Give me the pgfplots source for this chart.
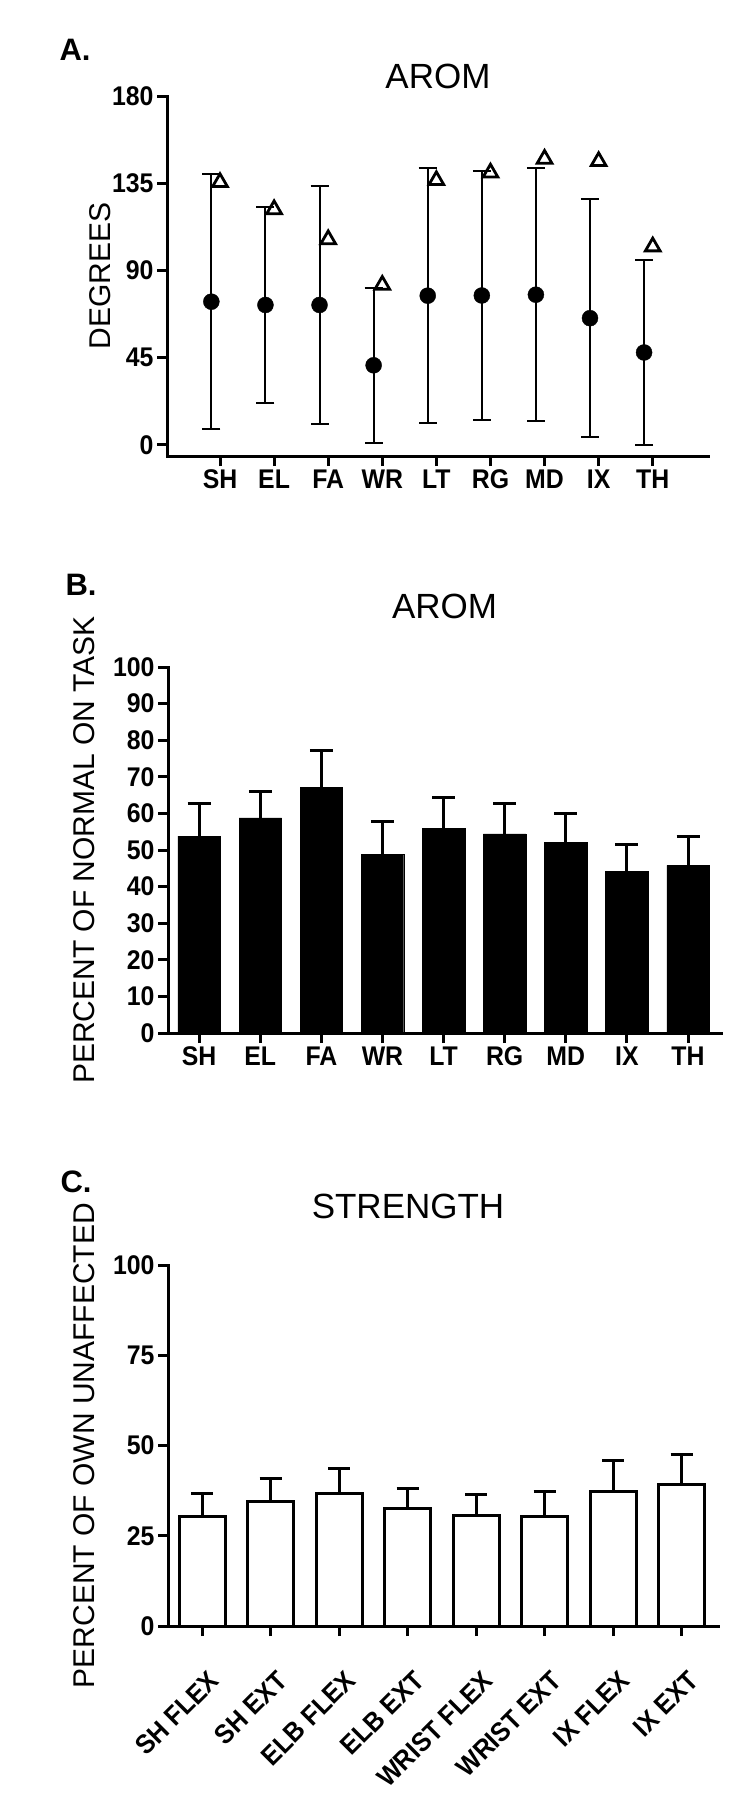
\documentclass[border=0pt]{standalone}
\usepackage{fontspec}
\setmainfont{Liberation Sans}
\newfontfamily\condfont[FakeStretch=0.92]{Liberation Sans}
\usepackage{pgfplots}
\usepackage{pgfplotstable}
\pgfplotsset{compat=1.18}

\newcommand{\tickfont}{\condfont\bfseries\fontsize{27bp}{29bp}\selectfont}
\newcommand{\rottickfont}{\condfont\bfseries\fontsize{27bp}{29bp}\selectfont}
\newcommand{\labfont}{\fontsize{30bp}{32bp}\selectfont}
\newcommand{\titfont}{\fontsize{35bp}{38bp}\selectfont}
\newcommand{\letfont}{\bfseries\fontsize{31bp}{33bp}\selectfont}

\pgfplotstableread{
x   xd     y     e     tri
0  -0.16  73.9  65.8  135.5
1   0.84  72.2  50.5  121.5
2   1.84  72.2  61.4  106.0
3   2.84  41.1  39.9   82.5
4   3.84  77.0  65.8  136.5
5   4.84  77.1  64.2  140.4
6   5.84  77.5  65.2  147.5
7   6.84  65.4  61.5  146.3
8   7.84  47.7  47.7  102.3
}\dataA

\pgfplotstableread{
x  y     e
0  53.8  8.8
1  58.8  7.3
2  67.1  10.1
3  48.9  8.8
4  55.9  8.5
5  54.4  8.3
6  52.1  7.8
7  44.2  7.4
8  45.8  8.0
}\dataB

\pgfplotstableread{
x  y     e
0  30.4  6.2
1  34.6  6.3
2  36.7  6.9
3  32.5  5.6
4  30.5  5.8
5  30.4  6.9
6  37.4  8.5
7  39.2  8.2
}\dataC

\pgfplotsset{
  gp/.style={
    scale only axis,
    axis x line*=bottom, axis y line*=left,
    axis line style={line width=3bp, line cap=rect, -},
    tick style={line width=3bp, black},
    tick align=outside,
    major tick length=10bp,
    tick label style={font=\tickfont},
    /pgf/number format/assume math mode=true,
    label style={font=\labfont},
    title style={font=\titfont},
    enlargelimits=false,
    clip=false,
  }
}

\begin{document}
\begin{tikzpicture}
\useasboundingbox (0,0) rectangle (750bp,-1793bp);

% ---------------- Panel A ----------------
\begin{axis}[gp,
  at={(167bp,-456bp)}, anchor=south west,
  width=542bp, height=360bp,
  xmin=-0.98, xmax=9.04, ymin=-5.7, ymax=180,
  xtick={0,...,8}, xticklabels={SH,EL,FA,WR,LT,RG,MD,IX,TH},
  ytick={0,45,90,135,180},
  ylabel={DEGREES},
  ylabel style={at={([xshift=-67bp]rel axis cs:0,0.5)}, anchor=center},
  title={AROM},
  title style={at={(rel axis cs:0.5,1)}, anchor=base, yshift=2bp},
]
\addplot[only marks, black, mark=*, mark size=8bp,
  error bars/.cd, y dir=both, y explicit,
  error bar style={line width=2bp, black},
  error mark options={rotate=90, mark size=9bp, line width=2bp, black}]
  table[x=xd, y=y, y error=e] {\dataA};
\addplot[only marks, black, mark=triangle, mark size=8.5bp,
  mark options={line width=2.8bp, fill=white}]
  table[x=x, y=tri] {\dataA};
\end{axis}

% ---------------- Panel B ----------------
\begin{axis}[gp,
  at={(168bp,-1033bp)}, anchor=south west,
  width=553bp, height=366bp,
  xmin=-0.51, xmax=8.54, ymin=0, ymax=100,
  xtick={0,...,8}, xticklabels={SH,EL,FA,WR,LT,RG,MD,IX,TH},
  ytick={0,10,...,100},
  ylabel={PERCENT OF NORMAL ON TASK},
  ylabel style={at={([xshift=-84bp]rel axis cs:0,0.5)}, anchor=center},
  title={AROM},
  title style={at={(rel axis cs:0.5,1)}, anchor=base, yshift=43bp},
]
\addplot[ybar, bar shift=0pt, bar width=42.5bp, fill=black, draw=black,
  error bars/.cd, y dir=plus, y explicit,
  error bar style={line width=3bp, black},
  error mark options={rotate=90, mark size=11.5bp, line width=3bp, black}]
  table[x=x, y=y, y error=e] {\dataB};
\end{axis}

% ---------------- Panel C ----------------
\begin{axis}[gp,
  at={(168bp,-1626bp)}, anchor=south west,
  width=550bp, height=361bp,
  xmin=-0.5, xmax=7.53, ymin=0, ymax=100,
  xtick={0,...,7},
  xticklabels={SH FLEX,SH EXT,ELB FLEX,ELB EXT,WRIST FLEX,WRIST EXT,IX FLEX,IX EXT},
  xticklabel style={font=\rottickfont, xshift=5bp, yshift=-33bp, rotate=45, anchor=north east, inner sep=0pt},
  ytick={0,25,50,75,100},
  ylabel={PERCENT OF OWN UNAFFECTED},
  ylabel style={at={([xshift=-84bp]rel axis cs:0,0.5)}, anchor=center},
  title={STRENGTH},
  title style={at={(rel axis cs:0.5,1)}, anchor=base, yshift=41bp, xshift=-35bp},
]
\addplot[ybar, bar shift=0pt, bar width=46bp, fill=white, draw=black, line width=3bp,
  error bars/.cd, y dir=plus, y explicit,
  error bar style={line width=3bp, black},
  error mark options={rotate=90, mark size=11bp, line width=3bp, black}]
  table[x=x, y=y, y error=e] {\dataC};
\end{axis}

\node[font=\letfont] at (75bp,-50bp) {A.};
\node[font=\letfont] at (81bp,-585bp) {B.};
\node[font=\letfont] at (76bp,-1182bp) {C.};
\end{tikzpicture}
\end{document}
